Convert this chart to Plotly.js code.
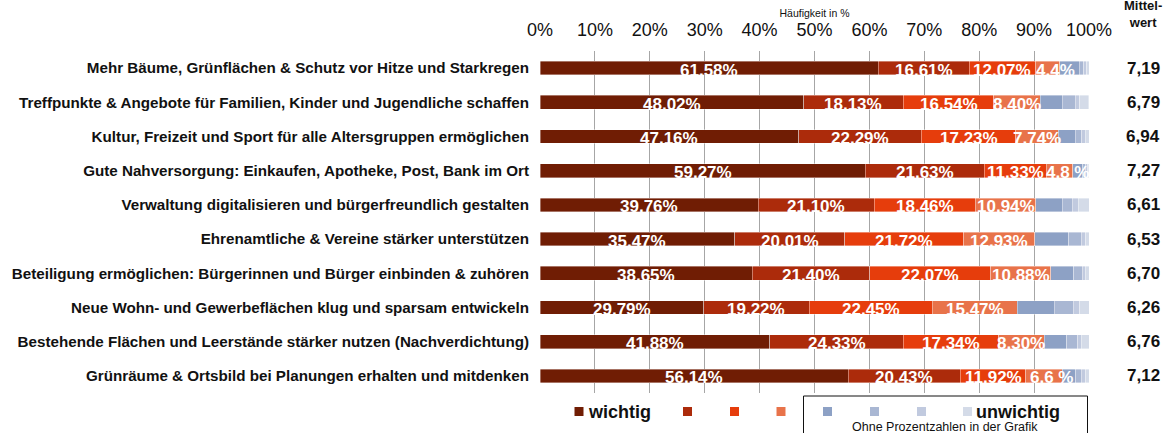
<!DOCTYPE html>
<html>
<head>
<meta charset="utf-8">
<script src="https://cdn.plot.ly/plotly-3.0.1.min.js"></script>
<style>html,body{margin:0;padding:0;background:#fff;}#chart{width:1175px;height:433px;}</style>
</head>
<body>
<div id="chart"></div>
<script>
const categories = [
  "Mehr Bäume, Grünflächen & Schutz vor Hitze und Starkregen",
  "Treffpunkte & Angebote für Familien, Kinder und Jugendliche schaffen",
  "Kultur, Freizeit und Sport für alle Altersgruppen ermöglichen",
  "Gute Nahversorgung: Einkaufen, Apotheke, Post, Bank im Ort",
  "Verwaltung digitalisieren und bürgerfreundlich gestalten",
  "Ehrenamtliche & Vereine stärker unterstützen",
  "Beteiligung ermöglichen: Bürgerinnen und Bürger einbinden & zuhören",
  "Neue Wohn- und Gewerbeflächen klug und sparsam entwickeln",
  "Bestehende Flächen und Leerstände stärker nutzen (Nachverdichtung)",
  "Grünräume & Ortsbild bei Planungen erhalten und mitdenken"
];
// Stufe 1 (wichtig) ... Stufe 8 (unwichtig), Häufigkeit in %
const s1 = [61.58, 48.02, 47.16, 59.27, 39.76, 35.47, 38.65, 29.79, 41.88, 56.14];
const s2 = [16.61, 18.13, 22.29, 21.63, 21.10, 20.01, 21.40, 19.22, 24.33, 20.43];
const s3 = [12.07, 16.54, 17.23, 11.33, 18.46, 21.72, 22.07, 22.45, 17.34, 11.92];
const s4 = [4.4, 8.40, 7.74, 4.8, 10.94, 12.93, 10.88, 15.47, 8.30, 6.6];
const s5 = [3.6, 4.0, 3.1, 1.8, 4.9, 6.2, 4.2, 6.7, 4.1, 2.5];
const s6 = [0.8, 2.4, 1.2, 0.6, 1.8, 2.3, 1.6, 3.5, 2.0, 1.0];
const s7 = [0.5, 0.85, 0.6, 0.35, 1.1, 0.8, 0.55, 1.2, 0.6, 0.8];
const s8 = [0.44, 1.64, 0.68, 0.2, 1.94, 0.6, 0.65, 1.67, 1.45, 0.61];
const labels1 = ["61,58%","48,02%","47,16%","59,27%","39,76%","35,47%","38,65%","29,79%","41,88%","56,14%"];
const labels2 = ["16,61%","18,13%","22,29%","21,63%","21,10%","20,01%","21,40%","19,22%","24,33%","20,43%"];
const labels3 = ["12,07%","16,54%","17,23%","11,33%","18,46%","21,72%","22,07%","22,45%","17,34%","11,92%"];
const labels4 = ["4,4%","8,40%","7,74%","4,8 %","10,94%","12,93%","10,88%","15,47%","8,30%","6,6 %"];
const means = ["7,19","6,79","6,94","7,27","6,61","6,53","6,70","6,26","6,76","7,12"];
const xTicks = [0,10,20,30,40,50,60,70,80,90,100];
const legendNames = ["wichtig","","","","","","","unwichtig"];

const colors = ["#701D04","#AC2B0B","#E63D0C","#E8734A","#8DA1C5","#A9B7D3","#C1CADF","#D4DBE8"];
const series = [s1,s2,s3,s4,s5,s6,s7,s8];
const labelSets = [labels1,labels2,labels3,labels4];

const FONT = 'Liberation Sans, Arial, sans-serif';

const traces = series.map((s,i)=>({
  type:'bar', orientation:'h', x:s, y:categories, name:legendNames[i] || ('Stufe '+(i+1)),
  marker:{color:colors[i], line:{color:'rgba(255,255,255,0.55)', width:0.7}},
  hoverinfo:'x+y', showlegend:false
}));

// geometry helpers for layout decorations (paper coords from pixels)
const W=1175, H=433, mL=540, mR=86, mT=51, mB=40;
const pw = W-mL-mR, ph = H-mT-mB;
const px2x = p => (p-mL)/pw;
const py2y = p => (H-mB-p)/ph;

const annotations = [];
// segment labels
categories.forEach((c,r)=>{
  let cum = 0;
  for(let k=0;k<4;k++){
    const v = series[k][r];
    const txt = labelSets[k][r];
    // short labels in the reference sit slightly to the right of the segment centre
    const shift = (k===3 && v<7) ? 8 : 0;
    annotations.push({x:cum+v/2, y:c, xref:'x', yref:'y', text:txt,
      showarrow:false, font:{family:FONT, size:17, color:'#ffffff', weight:'bold'},
      xanchor:'center', yanchor:'middle', yshift:-2, xshift:shift});
    cum += v;
  }
  annotations.push({x:px2x(1143), y:c, xref:'paper', yref:'y', text:means[r], showarrow:false,
    font:{family:FONT, size:17, color:'#111', weight:'bold'}, xanchor:'center', yanchor:'middle'});
});
annotations.push({x:px2x(1143), y:py2y(14), xref:'paper', yref:'paper', text:'Mittel-<br>wert', showarrow:false,
  font:{family:FONT, size:13, color:'#111', weight:'bold'}, xanchor:'center', yanchor:'middle'});

// legend
const legX = [579, 687.5, 734.5, 781, 827.5, 874.5, 921.5, 967.5];
const legY = 411.5;
const shapes = [];
legX.forEach((lx,i)=>{
  shapes.push({type:'rect', xref:'paper', yref:'paper', x0:px2x(lx-4.5), x1:px2x(lx+4.5), y0:py2y(legY+4.5), y1:py2y(legY-4.5),
    fillcolor:colors[i], line:{width:0}});
});
annotations.push({x:px2x(586), y:py2y(legY), xref:'paper', yref:'paper', text:legendNames[0], showarrow:false,
  font:{family:FONT, size:18, color:'#111', weight:'bold'}, xanchor:'left', yanchor:'middle'});
annotations.push({x:px2x(974), y:py2y(legY), xref:'paper', yref:'paper', text:legendNames[7], showarrow:false,
  font:{family:FONT, size:18, color:'#111', weight:'bold'}, xanchor:'left', yanchor:'middle'});
annotations.push({x:px2x(945), y:py2y(427), xref:'paper', yref:'paper', text:'Ohne Prozentzahlen in der Grafik', showarrow:false,
  font:{family:FONT, size:12.5, color:'#111'}, xanchor:'center', yanchor:'middle'});
shapes.push({type:'rect', xref:'paper', yref:'paper', x0:px2x(803.5), x1:px2x(1087.5), y0:py2y(445), y1:py2y(396),
  line:{color:'#111', width:1}, fillcolor:'rgba(0,0,0,0)'});

const layout = {
  width:W, height:H, margin:{l:mL, r:mR, t:mT, b:mB, pad:0},
  paper_bgcolor:'#fff', plot_bgcolor:'#fff',
  barmode:'stack', bargap:0.6, showlegend:false,
  font:{family:FONT, color:'#111'},
  xaxis:{side:'top', range:[0,100], tickvals:xTicks, ticktext:xTicks.map(v=>v+'%'), showgrid:true, gridcolor:'#A6A6A6', gridwidth:1,
    zeroline:false, ticks:'', ticklabelstandoff:10, tickfont:{size:18, color:'#111'},
    title:{text:'Häufigkeit in %', font:{size:10.5, color:'#111'}, standoff:0}, fixedrange:true},
  yaxis:{type:'category', autorange:'reversed', showgrid:false, zeroline:false, ticks:'', ticklabelstandoff:10,
    tickfont:{size:15.2, color:'#111', family:FONT, weight:'bold'}, fixedrange:true},
  annotations: annotations, shapes: shapes
};
Plotly.newPlot('chart', traces, layout, {displayModeBar:false, staticPlot:true});
</script>
</body>
</html>
